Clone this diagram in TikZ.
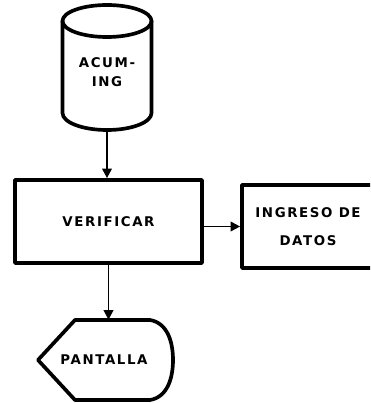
\documentclass[tikz,border=0pt]{standalone}
\usepackage{fontspec}
\usepackage{tikz}
\usetikzlibrary{arrows.meta,positioning,calc}
\newfontfamily\flowfont[LetterSpace=12]{DejaVu Sans}
\newcommand{\flowtxt}{\fontsize{9.5}{13.5}\selectfont\flowfont\bfseries}

\begin{document}
\begin{tikzpicture}[x=0.025cm, y=0.025cm,
  shp/.style={line width=2.6pt, line join=round},
  box/.style={shp, draw, minimum width=4.675cm, minimum height=2.075cm, font=\flowtxt},
  lbl/.style={font=\flowtxt, align=center, inner sep=0pt},
  arr/.style={-{Triangle[length=2.4mm,width=2.4mm]}, line width=1.4pt}
]
  \clip (0,0) rectangle (370,403);

  % cylinder (stored data)
  \node[lbl, minimum width=2.225cm, minimum height=2.875cm] (acum) at (107,330.5) {ACUM-\\ING};
  \draw[shp] (107,382) ellipse [x radius=1.1125cm, y radius=0.4cm];
  \draw[shp] (62.5,382) -- (62.5,290)
    arc[start angle=180, end angle=360, x radius=1.1125cm, y radius=0.425cm] -- (151.5,382);

  \node[box] (verif) at (108.5,181.5) {VERIFICAR};
  \node[box, minimum width=3.3cm, align=center] (ingr) at (308,176.5) {INGRESO DE\\[6pt]DATOS};

  % display symbol
  \node[lbl, minimum width=3.375cm, minimum height=2cm] (pant) at (104,43) {PANTALLA};
  \draw[shp] (75,83) -- (150,83) .. controls (168,80) and (173,60) .. (173,43)
    .. controls (173,26) and (168,6) .. (150,3) -- (75,3) -- (38,43) -- cycle;

  \draw[arr] (acum.south) -- (acum.south |- verif.north);
  \draw[arr] (verif.east |- ingr.west) -- (ingr.west);
  \draw[arr] (verif.south) -- (verif.south |- pant.north);
\end{tikzpicture}
\end{document}
